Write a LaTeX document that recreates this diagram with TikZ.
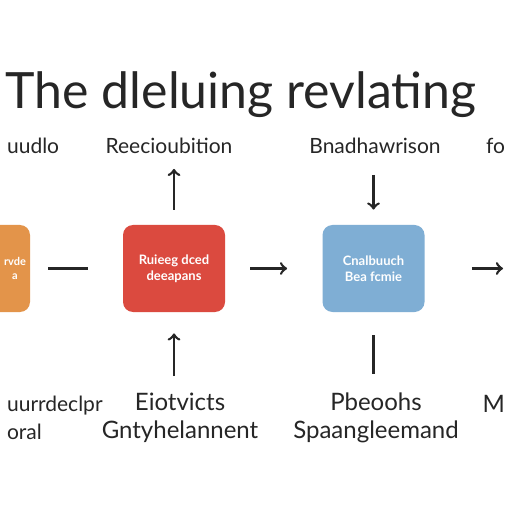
\documentclass[tikz,border=0pt]{standalone}
\usepackage{fontspec}
\setmainfont{Lato}
\usetikzlibrary{positioning}
\definecolor{boxorange}{HTML}{E3944A}
\definecolor{boxred}{HTML}{DB4A3F}
\definecolor{boxblue}{HTML}{7FAED4}
\begin{document}
\begin{tikzpicture}[x=0.5pt,y=-0.5pt]

	\tikzstyle{box} = [rounded corners=5pt, minimum width=51pt, minimum height=43.5pt, align=center, text=white, font=\bfseries\fontsize{6.5}{8}\selectfont];
	\tikzstyle{lbl} = [align=center, text=black!85, font=\fontsize{10.5}{13.5}\selectfont];
	\tikzstyle{link} = [line width=1.3pt, draw=black!85];

	\useasboundingbox[fill=white] (0,0) rectangle (512,512);

	\node[font=\fontsize{25}{30}\selectfont, text=black!85] (title) at (241,95) {The dleluing revlating};

	\begin{scope}
	\clip (0,0) rectangle (512,512);
	\node[box, fill=boxorange] (orange) at (-21,268.5) {};
	\end{scope}
	\node[box, fill=none, minimum width=0pt, font=\bfseries\fontsize{5.5}{7}\selectfont] (orangetxt) at (15,268.5) {rvde\\a};
	\node[box, fill=boxred] (red) at (174,268.5) {Ruieeg dced\\deeapans};
	\node[box, fill=boxblue] (blue) at (373.5,268.5) {Cnalbuuch\\Bea fcmie};
	\coordinate (next) at (503,268.5);

	\node[lbl, anchor=west] (udlbl) at (0,146) {uudlo};
	\node[lbl] (reclbl) at (169,146) {Reecioubition};
	\node[lbl] (bnalbl) at (375,146) {Bnadhawrison};
	\node[lbl, anchor=east] (folbl) at (512,146) {fo};

	\node[lbl, align=left, anchor=west, font=\fontsize{10.5}{14}\selectfont] (urlbl) at (0,418) {uurrdeclpr\\oral};
	\node[lbl, font=\fontsize{12}{14}\selectfont] (eilbl) at (180,418) {Eiotvicts\\Gntyhelannent};
	\node[lbl, font=\fontsize{12}{14}\selectfont] (pblbl) at (376,418) {Pbeoohs\\Spaangleemand};
	\node[lbl, anchor=east, font=\fontsize{12}{14}\selectfont] (mlbl) at (512,404) {M};

	\draw[link, shorten <=9pt, shorten >=17.5pt] (orange) -- (red);
	\draw[link, ->, shorten <=12.5pt, shorten >=17.5pt] (red) -- (blue);
	\draw[link, ->, shorten <=23.5pt] (blue) -- (next);

	\draw[link, ->, shorten <=7.5pt, shorten >=4pt] (red.north) -- (red.north |- reclbl.south);
	\draw[link, ->, shorten <=7pt, shorten >=7.5pt] (bnalbl.south -| blue.north) -- (blue.north);
	\draw[link, ->, shorten <=5pt, shorten >=10.5pt] (eilbl.north -| red.south) -- (red.south);
	\draw[link, shorten <=11.5pt, shorten >=6pt] (blue.south) -- (blue.south |- pblbl.north);

\end{tikzpicture}
\end{document}
